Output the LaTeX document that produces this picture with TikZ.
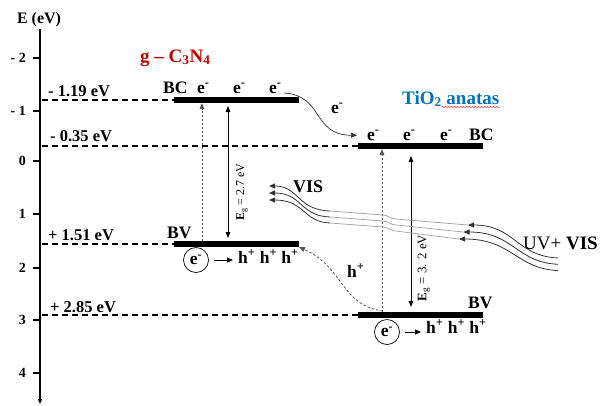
\documentclass[tikz,border=0pt]{standalone}
\usepackage{fontspec}
\setmainfont{Liberation Serif}
\usepackage{tikz}
\usetikzlibrary{calc,positioning,arrows.meta,decorations.pathmorphing}
\definecolor{vermelho}{HTML}{C00000}
\definecolor{azul}{HTML}{0070C0}
\definecolor{cinza}{HTML}{555555}
\definecolor{escuro}{HTML}{333333}
\definecolor{claro}{HTML}{A0A0A0}
\definecolor{sublinha}{HTML}{FF4040}
\newcommand{\tam}[1]{\fontsize{#1}{#1}\selectfont}

\begin{document}
\begin{tikzpicture}[x=1pt,y=-1pt, font=\tam{15}\bfseries, inner sep=0pt,
    eixo/.style={line width=1.3pt, -{Triangle[length=5pt,width=4pt]}},
    nivel/.style={line width=1.1pt, dash pattern=on 6pt off 4pt},
    banda/.style={line width=5.5pt},
    exc/.style={line width=0.8pt, cinza, dash pattern=on 2.5pt off 1.5pt, -{Triangle[length=6pt,width=4.5pt]}},
    gap/.style={line width=0.8pt, {Triangle[length=6pt,width=4.5pt]}-{Triangle[length=6pt,width=4.5pt]}},
    seta/.style={line width=0.9pt, -{Triangle[length=6pt,width=5pt]}},
    buraco/.style={line width=0.8pt, cinza, dash pattern=on 2.5pt off 2pt, -{Triangle[length=6pt,width=5pt]}},
    luz/.style={line width=0.8pt, escuro, -{Triangle[length=6pt,width=5pt]}},
    luzfraca/.style={line width=0.7pt, claro},
    rot/.style={font=\tam{16.5}\bfseries, anchor=base west},
    carga/.style={font=\tam{17.5}\bfseries, anchor=base west},
    eletron/.style={circle, draw, line width=0.7pt, minimum size=25pt, font=\tam{17.5}\bfseries}]
  \useasboundingbox (0,0) rectangle (601,405);
  \node[font=\tam{16}\bfseries] (etitulo) at (39,20) {E (eV)};
  \coordinate (topo) at (40,29);
  \coordinate (fundo) at (40,404);
  \draw[eixo] (topo) -- (fundo);
  \foreach \v/\y in {- 2/58, - 1/111, 0/161, 1/214, 2/268, 3/320, 4/373}{
    \draw[line width=1.2pt] (33,\y) -- (40,\y);
    \node[font=\tam{14}\bfseries, anchor=east] (m\y) at (26,\y) {\v};
  }
  \coordinate (gBCa) at (174,100); \coordinate (gBCb) at (299,100);
  \coordinate (gBVa) at (174,244); \coordinate (gBVb) at (299,244);
  \coordinate (tBCa) at (358,146); \coordinate (tBCb) at (483,146);
  \coordinate (tBVa) at (358,315); \coordinate (tBVb) at (483,315);
  \foreach \b in {gBC,gBV,tBC,tBV}
    \draw[banda] (\b a) -- (\b b);
  \foreach \b in {gBC,gBV,tBC,tBV}
    \draw[nivel, shorten <=2pt] (\b a -| topo) -- (\b a);
  \node[rot] (n1) at (48,96) {- 1.19 eV};
  \node[rot] (n2) at (50,141) {- 0.35 eV};
  \node[rot] (n3) at (48,240) {+ 1.51 eV};
  \node[rot] (n4) at (50,312) {+ 2.85 eV};
  \node[font=\tam{19}\bfseries, text=vermelho, anchor=base west] (gcn) at (140,62) {g -- C\textsubscript{3}N\textsubscript{4}};
  \node[font=\tam{19}\bfseries, text=azul, anchor=base west] (tio) at (402,104) {TiO\textsubscript{2} anatas};
  \draw[sublinha, line width=0.5pt, decorate, decoration={snake, amplitude=0.8pt, segment length=3pt}]
    ($(tio.base east)+(-58,3)$) -- ($(tio.base east)+(0,3)$);
  \node[carga] (gbc) at (163,93) {BC};
  \foreach \x [count=\i] in {197,233,269}
    \node[carga] (ge\i) at (\x,93) {e\textsuperscript{-}};
  \node[carga] (tbc) at (469,140) {BC};
  \foreach \x [count=\i] in {367,403,440}
    \node[carga] (te\i) at (\x,140) {e\textsuperscript{-}};
  \node[carga] (gbv) at (167,238) {BV};
  \node[carga] (tbv) at (468,308) {BV};
  \draw[seta, line width=0.7pt, escuro] ([xshift=2pt]ge3.base east) .. controls +(40,2) and +(-45,0) .. ([xshift=-10pt]te1.west);
  \node[carga] (etr) at (331,113) {e\textsuperscript{-}};
  \draw[exc] ([shift={(28,-3)}]gBVa) -- ([shift={(28,3)}]gBCa);
  \draw[gap] ([shift={(54,6)}]gBCa) -- ([shift={(54,-6)}]gBVa);
  \node[rotate=90, font=\tam{12}] (ggap) at (242,192) {\textbf{E}\textsubscript{g} = 2.7 eV};
  \draw[exc] ([shift={(24,-3)}]tBVa) -- ([shift={(24,3)}]tBCa);
  \draw[gap] ([shift={(53,10)}]tBCa) -- ([shift={(53,-8)}]tBVa);
  \node[rotate=90, font=\tam{13}] (tgap) at (424,268) {\textbf{E}\textsubscript{g} = 3. 2 eV};
  \node[eletron] (gel) at (196,260) {e\textsuperscript{-}};
  \node[carga] (gh) at (238,263) {h\textsuperscript{+} h\textsuperscript{+} h\textsuperscript{+}};
  \draw[seta] ([xshift=5pt]gel.east) -- ([xshift=-5pt]gel.east -| gh.west);
  \node[eletron] (tel) at (387,332) {e\textsuperscript{-}};
  \node[carga] (th) at (426,333) {h\textsuperscript{+} h\textsuperscript{+} h\textsuperscript{+}};
  \draw[seta] ([xshift=5pt]tel.east) -- ([xshift=-5pt]tel.east -| th.west);
  \draw[buraco] ([shift={(25,-4)}]tBVa) .. controls +(-43,-6) and +(46,21) .. ([shift={(0,3)}]gBVb);
  \node[carga] (hmig) at (347,277) {h\textsuperscript{+}};
  \foreach \k in {0,1,2}{
    \coordinate (va\k) at (330,{211+6*\k});
    \coordinate (vb\k) at (269,{186+7*\k});
    \coordinate (ua\k) at ({468-4.5*\k},{225+7*\k});
    \coordinate (uz\k) at (558,{258+6.3*\k});
    \draw[luz] (va\k) .. controls +({-33+3*\k},-1) and +({30+3*\k},0) .. (vb\k);
    \draw[luzfraca] (va\k) -- ++(53,4) to[out=0,in=180] ++(13,4) -- (ua\k);
    \draw[luz] (uz\k) .. controls +(-42,-2) and +({47+3*\k},0) .. (ua\k);
  }
  \node[font=\tam{18}\bfseries, anchor=base west] (vis) at (293,192) {VIS};
  \node[font=\tam{19}, anchor=base west] (uvvis) at (523,249) {UV+ \textbf{VIS}};
\end{tikzpicture}
\end{document}
